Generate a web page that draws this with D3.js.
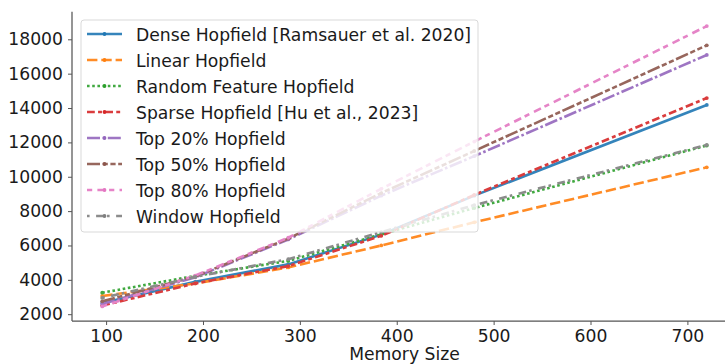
<!DOCTYPE html>
<html>
<head>
<meta charset="utf-8">
<script src="https://cdn.jsdelivr.net/npm/d3@7"></script>
<style>
  html, body { margin: 0; padding: 0; background: #fff; }
  svg { display: block; font-family: "DejaVu Sans", sans-serif; }
</style>
</head>
<body>
<svg id="chart" width="725" height="364"></svg>
<script>
const memorySizes = [96, 192, 288, 384, 480, 720];
const seriesNames = [
  "Dense Hopfield [Ramsauer et al. 2020]",
  "Linear Hopfield",
  "Random Feature Hopfield",
  "Sparse Hopfield [Hu et al., 2023]",
  "Top 20% Hopfield",
  "Top 50% Hopfield",
  "Top 80% Hopfield",
  "Window Hopfield"
];
const denseValues   = [2650, 3880, 4900, 6630, 8900, 14180];
const linearValues  = [3060, 3790, 4720, 6000, 7350, 10550];
const randomValues  = [3250, 4230, 5100, 6650, 8180, 11820];
const sparseValues  = [2500, 3790, 4800, 6560, 8940, 14580];
const top20Values   = [2600, 4150, 6350, 8900, 11200, 17090];
const top50Values   = [2750, 4200, 6400, 9050, 11500, 17650];
const top80Values   = [2450, 4250, 6450, 9300, 12050, 18770];
const windowValues  = [2950, 4170, 5200, 6780, 8350, 11850];
const yTicks = [2000, 4000, 6000, 8000, 10000, 12000, 14000, 16000, 18000];
const xTicks = [100, 200, 300, 400, 500, 600, 700];

(function () {
const allValues = [denseValues, linearValues, randomValues, sparseValues,
                   top20Values, top50Values, top80Values, windowValues];
const colors = ["#1f77b4", "#ff7f0e", "#2ca02c", "#d62728", "#9467bd", "#8c564b", "#e377c2", "#7f7f7f"];
const lw = 2.6;
const fs = "17.2px";
const dashUnits = [null, [4, 1.5], [1, 1], [3, 1.25, 1.5, 1.25], [5, 1, 1, 1],
                   [5, 1, 2, 1, 2, 1], [2, 2, 3, 1.5], [1, 2.5, 3, 1.2]];
const dashStr = d => d ? d.map(v => (v * lw).toFixed(2)).join(",") : null;

const svg = d3.select("#chart");
const pL = 72, pR = 737, pT = 11.7, pB = 321;
const x = d3.scaleLinear().domain([64.8, 751.2]).range([pL, pR]);
const y = d3.scaleLinear().domain([1604, 19607]).range([pB, pT]);

const xAxis = svg.append("g").attr("transform", `translate(0,${pB})`)
  .call(d3.axisBottom(x).tickValues(xTicks).tickFormat(d3.format("d")).tickSize(4).tickPadding(5).tickSizeOuter(0));
const yAxis = svg.append("g").attr("transform", `translate(${pL},0)`)
  .call(d3.axisLeft(y).tickValues(yTicks).tickFormat(d3.format("d")).tickSize(4).tickPadding(5).tickSizeOuter(0));
[xAxis, yAxis].forEach(g => {
  g.select(".domain").attr("stroke", "#555").attr("stroke-width", 1.25);
  g.selectAll(".tick line").attr("stroke", "#555").attr("stroke-width", 1);
  g.selectAll(".tick text").attr("fill", "#1a1a1a").style("font-size", fs)
    .style("font-family", "DejaVu Sans");
});
xAxis.select(".domain").attr("d", `M${pL},0H${pR}`);
yAxis.select(".domain").attr("d", `M0,${pB}V${pT}`);

svg.append("text").attr("x", (pL + pR) / 2).attr("y", 360)
  .attr("text-anchor", "middle").attr("fill", "#1a1a1a").style("font-size", fs)
  .text("Memory Size");

const line = d3.line().x((d, i) => x(memorySizes[i])).y(d => y(d));
const linesG = svg.append("g").attr("opacity", 0.9);
allValues.forEach((vals, k) => {
  linesG.append("path").datum(vals).attr("d", line)
    .attr("fill", "none").attr("stroke", colors[k]).attr("stroke-width", lw)
    .attr("stroke-dasharray", dashStr(dashUnits[k]));
  linesG.selectAll(null).data(vals).enter().append("circle")
    .attr("cx", (d, i) => x(memorySizes[i])).attr("cy", d => y(d))
    .attr("r", 1.9).attr("fill", colors[k]);
});

const lg = svg.append("g");
lg.append("rect").attr("x", 81).attr("y", 20).attr("width", 397).attr("height", 212)
  .attr("rx", 3).attr("fill", "#fff").attr("fill-opacity", 0.8)
  .attr("stroke", "#d9d9d9").attr("stroke-width", 1);
seriesNames.forEach((name, k) => {
  const cy = 34 + k * 26;
  lg.append("line").attr("x1", 87).attr("x2", 122).attr("y1", cy).attr("y2", cy)
    .attr("stroke", colors[k]).attr("stroke-width", lw).attr("stroke-opacity", 0.9)
    .attr("stroke-dasharray", dashStr(dashUnits[k]));
  lg.append("circle").attr("cx", 104.5).attr("cy", cy).attr("r", 1.9).attr("fill", colors[k]);
  lg.append("text").attr("x", 136).attr("y", cy + 6.5).attr("fill", "#1a1a1a")
    .style("font-size", fs).text(name);
});
})();
</script>
</body>
</html>
